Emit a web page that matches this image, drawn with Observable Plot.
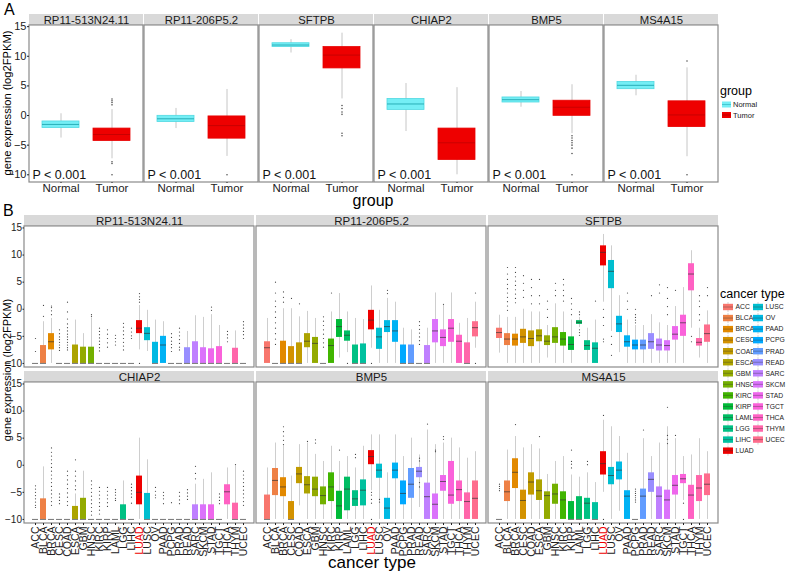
<!DOCTYPE html>
<html><head><meta charset="utf-8">
<script src="https://cdn.jsdelivr.net/npm/d3@7"></script>
<script src="https://cdn.jsdelivr.net/npm/@observablehq/plot@0.6"></script>
<style>
html,body{margin:0;padding:0;background:#fff;}
#wrap{position:relative;width:787px;height:573px;overflow:hidden;background:#fff;font-family:"Liberation Sans",Arial,Helvetica,sans-serif;}
</style></head><body><div id="wrap"></div>
<script>
// ---------------- DATA ----------------
const groups = ["Normal", "Tumor"];
const genesA = ["RP11-513N24.11", "RP11-206P5.2", "SFTPB", "CHIAP2", "BMP5", "MS4A15"];
const pLabels = ["P < 0.001", "P < 0.001", "P < 0.001", "P < 0.001", "P < 0.001", "P < 0.001"];
// [lower whisker, Q1, median, Q3, upper whisker]
const normalStats = [
  [-3.8, -2.1, -1.5, -1.0, 0.3],
  [-2.2, -1.1, -0.55, -0.05, 1.2],
  [10.55, 11.55, 11.9, 12.2, 12.8],
  [-2.7, 0.95, 1.95, 2.8, 5.4],
  [1.4, 2.2, 2.67, 3.05, 4.05],
  [3.33, 4.45, 5.1, 5.67, 6.8]
];
const tumorStats = [
  [-7.3, -4.3, -3.2, -2.2, 1.0],
  [-6.9, -3.9, -1.7, -0.15, 4.4],
  [2.8, 7.95, 10.2, 11.55, 13.9],
  [-10.0, -7.5, -4.6, -2.2, 4.7],
  [-3.05, -0.05, 1.4, 2.5, 5.2],
  [-6.95, -1.95, 0.1, 2.4, 8.05]
];
const normalOutliers = [[], [], [], [], [], []];
const tumorOutliers = [
  [2.8, 2.5, 2.2, 1.8, -7.8, -8.1, -10],
  [-10],
  [1.7, 1.2, 0.6, 0.2, -3.0, -3.4],
  [],
  [-3.4, -3.8, -4.2, -4.6, -5.0, -5.5, -6.4, -10],
  [9.2, -10]
];

const cancerTypes = ["ACC","BLCA","BRCA","CESC","COAD","ESCA","GBM","HNSC","KIRC","KIRP","LAML","LGG","LIHC","LUAD","LUSC","OV","PAAD","PCPG","PRAD","READ","SARC","SKCM","STAD","TGCT","THCA","THYM","UCEC"];
const genesB = ["RP11-513N24.11", "RP11-206P5.2", "SFTPB", "CHIAP2", "BMP5", "MS4A15"];

// per gene, per cancer type: [lower whisker, Q1, median, Q3, upper whisker]
const statsRP11_513 = [
  [-10,-10,-10,-10,-10],[-10,-10,-10,-6.7,-2.3],[-10,-7.5,-6.0,-4.5,-1.7],[-10,-10,-10,-10,-10],[-10,-10,-10,-10,-10],
  [-10,-10,-10,-6.6,-2.0],[-10,-10,-10,-7.0,-4.5],[-10,-10,-10,-7.0,-1.6],[-10,-10,-10,-10,-10],[-10,-10,-10,-10,-10],
  [-10,-10,-10,-10,-10],[-10,-10,-10,-10,-10],[-10,-10,-10,-10,-10],[-7.5,-4.5,-3.5,-2.1,0.7],[-7.8,-5.8,-4.45,-3.4,-0.2],
  [-10,-10,-10,-6.1,-2.0],[-10,-10,-6.6,-5.0,-2.3],[-10,-10,-10,-10,-10],[-10,-10,-10,-10,-10],[-10,-10,-10,-7.1,-4.1],
  [-10,-10,-10,-6.0,-1.2],[-10,-10,-10,-7.1,-1.5],[-10,-10,-10,-7.3,-1.0],[-10,-10,-10,-6.9,-3.0],[-10,-10,-10,-10,-10],
  [-10,-10,-10,-7.2,-4.0],[-10,-10,-10,-10,-10]
];
const statsRP11_206 = [
  [-10,-10,-7.1,-6.0,-1.7],[-10,-10,-10,-10,-10],[-10,-10,-10,-5.9,0.1],[-10,-10,-10,-6.9,0.1],[-10,-10,-10,-6.2,-1.4],
  [-10,-7.1,-5.9,-4.5,-0.4],[-10,-10,-6.3,-5.2,-1.7],[-10,-10,-10,-10,-10],[-10,-10,-6.7,-5.5,-0.5],[-9.0,-5.2,-3.2,-1.9,2.9],
  [-8.0,-5.9,-4.8,-4.0,-0.5],[-10,-10,-10,-6.6,-1.7],[-10,-10,-10,-6.4,-1.9],[-7.2,-3.8,-2.0,-0.2,4.3],[-10,-7.4,-5.1,-3.5,-0.2],
  [-10,-4.3,-3.2,-2.1,2.0],[-10,-6.1,-4.0,-2.1,1.3],[-10,-10,-10,-6.6,-3.5],[-10,-10,-10,-6.6,-3.8],[-10,-10,-10,-10,-10],
  [-10,-10,-10,-6.7,-3.5],[-10,-6.2,-4.0,-1.9,3.0],[-10,-6.9,-5.2,-3.8,0.7],[-10,-6.1,-3.5,-1.9,3.0],[-10,-10,-5.9,-4.8,-2.6],
  [-10,-10,-10,-6.2,-1.7],[-7.2,-5.1,-3.4,-2.3,1.3]
];
const statsSFTPB = [
  [-8.1,-5.4,-4.3,-3.5,-1.1],[-10,-6.7,-5.5,-4.5,-1.5],[-10,-6.8,-5.5,-4.6,-1.5],[-10,-6.3,-5.1,-3.7,0.0],[-10,-6.9,-5.4,-4.0,-0.5],
  [-10,-6.0,-4.9,-3.8,-0.5],[-9.0,-6.7,-5.9,-4.9,-3.0],[-10,-6.3,-5.1,-3.4,1.0],[-10,-6.8,-5.5,-4.3,-0.5],[-10,-7.6,-6.5,-5.1,-2.0],
  [-3.4,-2.8,-2.4,-2.1,-1.5],[-10,-7.6,-6.7,-5.8,-3.5],[-10,-10,-7.2,-6.2,-2.0],[1.3,8.0,10.5,11.7,13.8],[-4.1,3.8,7.0,9.0,11.7],
  [-8.0,-4.3,-2.7,-1.3,2.5],[-10,-7.0,-6.0,-4.9,-2.0],[-10,-7.5,-6.6,-5.7,-3.0],[-10,-7.5,-6.6,-5.7,-3.0],[-10,-7.4,-6.0,-4.5,-1.0],
  [-10,-7.7,-6.6,-5.5,-2.5],[-10,-7.7,-6.7,-5.8,-3.0],[-10,-5.7,-4.6,-3.2,0.5],[-10,-5.0,-2.5,-1.1,4.0],[-3.5,3.4,6.5,8.4,10.8],
  [-9.0,-6.8,-6.1,-5.4,-3.5],[-10,-6.1,-4.5,-2.9,-0.3]
];
const statsCHIAP2 = [
  [-10,-10,-10,-10,-10],[-10,-10,-10,-6.2,-0.3],[-10,-10,-10,-10,-10],[-10,-10,-10,-10,-10],[-10,-10,-10,-10,-10],
  [-10,-10,-10,-7.6,-5.3],[-10,-10,-10,-6.1,-1.1],[-10,-10,-10,-10,-10],[-10,-10,-10,-10,-10],[-10,-10,-10,-10,-10],
  [-10,-10,-10,-10,-10],[-10,-10,-10,-7.3,-2.9],[-10,-10,-10,-10,-10],[-10,-7.3,-5.0,-2.0,5.0],[-10,-10,-10,-5.2,1.0],
  [-10,-10,-10,-10,-10],[-10,-10,-10,-10,-10],[-10,-10,-10,-10,-10],[-10,-10,-10,-10,-10],[-10,-10,-10,-10,-10],
  [-10,-10,-10,-7.3,-3.5],[-10,-10,-10,-7.3,-2.6],[-10,-10,-10,-7.3,-1.4],[-10,-10,-10,-10,-10],[-10,-7.3,-4.9,-3.6,-0.5],
  [-10,-10,-10,-7.0,-0.2],[-10,-10,-10,-10,-10]
];
const statsBMP5 = [
  [-10,-10,-10,-5.5,-0.5],[-10,-5.6,-2.8,-0.6,4.1],[-10,-5.8,-4.0,-2.3,3.5],[-10,-10,-10,-6.7,-2.0],[-7.5,-3.4,-1.6,-0.4,3.8],
  [-10,-5.3,-3.6,-2.1,4.1],[-10,-5.8,-4.4,-2.2,2.0],[-10,-7.3,-5.6,-4.0,0.7],[-10,-6.7,-4.0,-1.4,3.5],[-10,-10,-7.5,-4.8,0.7],
  [-10,-8.4,-4.4,-2.2,1.6],[-10,-7.6,-6.2,-4.7,-0.5],[-10,-7.5,-4.6,-2.7,3.5],[-4.7,0.1,1.6,2.7,5.6],[-10,-2.4,-0.9,0.2,5.6],
  [-10,-10,-7.9,-6.1,-1.4],[-10,-2.5,-0.9,0.4,5.6],[-10,-7.3,-5.2,-2.9,1.6],[-10,-6.1,-3.5,-0.6,5.0],[-7.8,-2.3,-1.1,-0.4,1.9],
  [-10,-10,-5.8,-3.3,6.5],[-10,-10,-7.2,-5.3,3.8],[-10,-4.8,-3.0,-1.9,4.1],[-10,-7.2,-5.5,0.7,5.0],[-10,-6.7,-4.5,-2.9,3.2],
  [-10,-10,-6.7,-5.1,1.3],[-10,-10,-6.1,-2.9,2.5]
];
const statsMS4A15 = [
  [-10,-10,-10,-10,-10],[-10,-6.7,-4.9,-2.9,2.8],[-10,-4.3,-1.3,1.2,5.3],[-10,-10,-6.5,-4.6,3.2],[-10,-5.5,-3.1,-1.4,3.8],
  [-10,-6.5,-4.7,-2.7,3.0],[-10,-10,-5.6,-4.9,-1.7],[-10,-7.2,-5.3,-3.5,0.7],[-10,-10,-6.4,-4.9,1.6],[-10,-10,-10,-6.7,-1.8],
  [-10,-10,-10,-5.8,-2.2],[-10,-10,-7.0,-6.1,-1.4],[-10,-10,-10,-6.9,-3.2],[-5.0,-1.8,0.3,2.5,8.3],[-10,-3.6,-1.9,-0.4,7.1],
  [-8.5,-2.7,-0.9,0.6,5.3],[-10,-10,-5.7,-4.7,2.2],[-10,-10,-10,-10,-10],[-10,-10,-5.7,-4.4,4.9],[-10,-5.0,-2.6,-1.4,1.6],
  [-10,-10,-5.7,-4.0,4.1],[-10,-10,-6.4,-4.6,7.1],[-10,-5.5,-3.7,-1.9,4.9],[-6.5,-3.4,-2.5,-1.7,1.6],[-10,-10,-5.5,-3.7,1.9],
  [-10,-6.7,-4.2,-1.9,4.9],[-10,-5.6,-3.5,-1.6,2.5]
];

// outliers: [cancer type, values]
const outRP11_513 = [
  ["ACC",[-5.4,-7.8]],["BLCA",[0.7,-1.3]],["BRCA",[0.6,0.3,-0.3,-1.0]],
  ["CESC",[-3.8,-4.5,-5.1,-5.6,-6.1,-6.6,-7.1,-7.6]],
  ["COAD",[1.3,-0.5,-1.8,-2.7,-3.4,-4.0,-4.6,-5.1,-5.6,-6.1,-6.6,-7.1,-7.5]],
  ["HNSC",[-1.3,-1.0]],["KIRC",[-3.5,-4.1,-4.7,-5.3,-5.9,-6.5,-7.1,-7.7]],["KIRP",[-3.8,-4.6,-5.4,-6.2,-7.0]],
  ["LAML",[-4.8,-5.4,-6.0,-6.6]],["LGG",[-2.6,-3.3,-4.0,-4.7,-5.4,-6.1,-6.8,-7.5]],["LIHC",[-3.5,-4.2,-4.9,-5.4]],
  ["LUAD",[2.9,2.3,1.8,1.3,-10]],["PCPG",[-4.5,-5.2,-5.9,-6.5,-7.1,-7.8]],["PRAD",[-3.5,-4.2,-4.9,-5.6,-6.3,-7.0,-7.5]],
  ["STAD",[0.4,-0.2]],["THCA",[-4.1,-4.7,-5.3,-6.0]],["UCEC",[-2.3,-2.9,-3.5,-4.1,-4.7,-5.4]]
];
const outRP11_206 = [
  ["BLCA",[5.0,3.0,1.5,0.5,-0.5,-1.5,-2.5,-3.5,-4.5,-5.5,-6.5]],["BRCA",[3.2,2.2,1.3]],["CESC",[2.0]],["COAD",[1.0]],
  ["HNSC",[-1.4,-2.2,-3.0,-3.8,-4.6,-5.4,-6.2,-7.0]],["KIRC",[3.0]],["LAML",[-10]],["LUAD",[-10]],["OV",[3.5,2.9]],
  ["READ",[-2.3,-3.0,-3.7,-4.4,-5.1,-5.8,-6.5]],["STAD",[0.9]],["UCEC",[3.0,-10]]
];
const outSFTPB = [
  ["BLCA",[7.7,6.5,5.5,4.6,3.8,3.0,2.2,1.4,0.6,-0.2]],["BRCA",[7.7,6.8,6.0,5.2,4.4,3.6,2.8,2.0,1.2]],
  ["CESC",[6.2,4.8,3.5,2.2]],["COAD",[5.5,4.0,2.5,1.0]],["ESCA",[5.5,2.5,1.0]],["GBM",[1.5,0,-1.5]],
  ["HNSC",[4.8,3.5,2.5]],["KIRC",[5.5,4.5,3.5,2.5,1.5]],["KIRP",[2.0,1.0,0,-1.0]],
  ["LAML",[-0.5,-1.0,-3.8,-4.3,-4.8]],["LIHC",[1.5]],["LUAD",[0,-1.5,-3,-5.5,-6.0]],["LUSC",[-5,-6.5,-8.5]],
  ["PAAD",[3.0,1.5,0]],["PCPG",[-2.5,-2.0,-1.5,-1.0,0.0]],["READ",[2.5]],["SARC",[4.5,3.0]],
  ["SKCM",[4.0,2.0,0.5,-1.0]],["STAD",[3.5]],["THCA",[-5,-6]],["THYM",[2.5,1.5,0.5,-1,-2]],["UCEC",[4,2.5]]
];
const outCHIAP2 = [
  ["ACC",[-3.8,-4.4,-5.0,-5.6,-6.2,-6.8,-7.4,-7.8]],
  ["BRCA",[3.2,2.4,1.7,1.0,0.3,-0.4,-1.1,-1.8,-2.5,-3.2,-3.9,-4.6,-5.3,-6.0,-6.7,-7.4]],
  ["CESC",[-5.3,-5.9,-6.5,-7.1]],["COAD",[-1.1,-1.9,-2.7,-3.5,-4.3,-5.1,-5.9,-6.7,-7.4]],
  ["ESCA",[1.0,-1.1,-2.0,-2.9,-3.8,-4.5]],["HNSC",[-2.9,-3.6,-4.3,-5.0,-5.7,-6.4,-7.1,-7.8,-8.5,-9.2]],
  ["KIRC",[-4.1,-4.8,-5.5,-6.2,-6.9,-7.6,-8.3,-9.0]],["KIRP",[-4.1,-4.8,-5.5,-6.2,-6.9,-7.6]],
  ["LAML",[-4.5,-5.0,-5.5,-6.1,-6.5]],["LIHC",[-3.5,-4.1,-4.7,-5.3,-5.9,-7.0]],["OV",[-4.1,-4.8,-5.5,-6.0]],
  ["PAAD",[-5.0,-5.6,-6.2,-7.1]],["PCPG",[-6.9]],["PRAD",[-5.0,-5.7,-6.4,-7.1]],["READ",[-4.5,-5.1,-5.7,-6.3]],
  ["SARC",[-0.2,-1.5,-2.5]],["TGCT",[-5.3,-5.9,-6.5,-7.1]],["THYM",[0.1]],
  ["UCEC",[-1.1,-1.8,-2.5,-3.2,-3.9,-4.6,-5.3,-6.0,-6.7,-7.4]]
];
const outBMP5 = [
  ["BRCA",[7.1,6.2,5.4,4.6,3.8]],["ESCA",[4.4]],["GBM",[4.7,4.1]],["KIRP",[2.8]],["LGG",[1.4,2.0]],
  ["LUAD",[-5.0,-5.5,-6.3,-7.0,-10]],["LUSC",[-6.3,-6.8]],["READ",[-3.2,-4.0,0.8,1.3]],["SARC",[7.6]],
  ["SKCM",[2.5,2.8]],["STAD",[4.8,5.3]]
];
const outMS4A15 = [
  ["ACC",[-3.5,-3.9,-4.3,-4.7]],["BRCA",[7.5]],["ESCA",[5.3]],["KIRP",[2.8,0.7,0.2,-0.5]],["LGG",[0.7,0.1]],
  ["LUAD",[9.2,-10]],["PCPG",[-4.4,-4.8,-5.2,-5.6,-6.0,-6.4,-6.8]],["PRAD",[6.5]],
  ["SKCM",[10.7,5.5,4.8,4.0]],["STAD",[5.5]],["TGCT",[-7.0,-10]]
];

// ---------------- helpers ----------------
function hclR(h, c, l) { // R's hcl() (polar CIE-LUV) -> sRGB hex
  const hr = h * Math.PI / 180, U = c * Math.cos(hr), V = c * Math.sin(hr);
  const Xn = 95.047, Yn = 100, Zn = 108.883;
  const den = Xn + 15 * Yn + 3 * Zn, un = 4 * Xn / den, vn = 9 * Yn / den;
  const Y = l > 8 ? Yn * Math.pow((l + 16) / 116, 3) : Yn * l / 903.3;
  const up = U / (13 * l) + un, vp = V / (13 * l) + vn;
  const X = 9 * Y * up / (4 * vp), Z = Y * (12 - 3 * up - 20 * vp) / (4 * vp);
  const x = X / 100, y = Y / 100, z = Z / 100;
  const lin = [3.240479 * x - 1.537150 * y - 0.498535 * z,
               -0.969256 * x + 1.875992 * y + 0.041556 * z,
               0.055648 * x - 0.204043 * y + 1.057311 * z];
  const g = lin.map(v => { v = v <= 0.0031308 ? 12.92 * v : 1.055 * Math.pow(v, 1 / 2.4) - 0.055; return Math.round(255 * Math.max(0, Math.min(1, v))); });
  return "#" + g.map(v => v.toString(16).padStart(2, "0")).join("");
}
const palette = cancerTypes.map((t, i) => t === "LUAD" ? "#EE0000" : hclR(15 + 360 * i / cancerTypes.length, 100, 65));
const FONT = "Liberation Sans, Arial, Helvetica, sans-serif";
const wrap = document.getElementById("wrap");
function place(el, left, top) { el.style.position = "absolute"; el.style.left = left + "px"; el.style.top = top + "px"; wrap.appendChild(el); }

// ---------------- PANEL A ----------------
const rowsA = [], outA = [];
genesA.forEach((g, k) => {
  [normalStats[k], tumorStats[k]].forEach((s, j) => rowsA.push({gene: g, group: groups[j], lo: s[0], q1: s[1], med: s[2], q3: s[3], hi: s[4]}));
  normalOutliers[k].forEach(v => outA.push({gene: g, group: "Normal", v}));
  tumorOutliers[k].forEach(v => outA.push({gene: g, group: "Tumor", v}));
});
const panelsA = genesA.map((g, k) => ({gene: g, p: pLabels[k]}));
const normA = rowsA.filter(d => d.group === "Normal"), tumA = rowsA.filter(d => d.group === "Tumor");

const plotA = Plot.plot({
  width: 721, height: 200, marginLeft: 27, marginRight: 1, marginTop: 14, marginBottom: 18,
  style: {fontFamily: FONT, fontSize: "11px", color: "#222", background: "transparent", overflow: "visible"},
  fx: {domain: genesA, axis: null, paddingInner: 0.012, paddingOuter: 0},
  x: {domain: groups, paddingInner: 0.28, paddingOuter: 0.24, label: null},
  y: {domain: [-11.3, 17.05], label: null},
  marks: [
    Plot.barY(panelsA, {fx: "gene", y1: 15.2, y2: 17.05, fill: "#D9D9D9"}),
    Plot.text(panelsA, {fx: "gene", y: 16.1, text: "gene", fontSize: 11.3, fill: "#1a1a1a"}),
    Plot.barY(panelsA, {fx: "gene", y1: -11.3, y2: 15.2, fill: "none", stroke: "#8a8a8a", strokeWidth: 1.2}),
    Plot.ruleX(rowsA, {fx: "gene", x: "group", y1: "lo", y2: "hi", stroke: "#c6c6c6"}),
    Plot.barY(normA, {fx: "gene", x: "group", y1: "q1", y2: "q3", fill: "#74EEF5", stroke: "#52D9E2", strokeWidth: 0.8}),
    Plot.barY(tumA, {fx: "gene", x: "group", y1: "q1", y2: "q3", fill: "#EE0000", stroke: "#E80000", strokeWidth: 0.8}),
    Plot.tickY(normA, {fx: "gene", x: "group", y: "med", stroke: "#2AAEB8", strokeWidth: 1}),
    Plot.tickY(tumA, {fx: "gene", x: "group", y: "med", stroke: "#A00000", strokeWidth: 0.8, strokeOpacity: 0.6}),
    Plot.dot(outA, {fx: "gene", x: "group", y: "v", r: 0.8, fill: "#555", stroke: "none"}),
    Plot.text(panelsA, {fx: "gene", y: -10, text: "p", frameAnchor: "left", textAnchor: "start", dx: 3, fontSize: 12.5, fill: "#111"}),
    Plot.axisY({ticks: [-10, -5, 0, 5, 10, 15], tickSize: 2, tickPadding: 1, fontSize: 11, label: null}),
    Plot.axisX({tickSize: 1, tickPadding: 0, fontSize: 11.5, label: null})
  ]
});
place(plotA, 0, 0);

// ---------------- PANEL B ----------------
const statsB = [statsRP11_513, statsRP11_206, statsSFTPB, statsCHIAP2, statsBMP5, statsMS4A15];
const outsB = [outRP11_513, outRP11_206, outSFTPB, outCHIAP2, outBMP5, outMS4A15];
const rowsB = [], outB = [];
genesB.forEach((g, k) => {
  const col = k % 3, row = Math.floor(k / 3);
  statsB[k].forEach((s, i) => rowsB.push({gene: g, col, row, type: cancerTypes[i], lo: s[0], q1: s[1], med: s[2], q3: s[3], hi: s[4]}));
  outsB[k].forEach(([t, vals]) => vals.forEach(v => outB.push({gene: g, col, row, type: t, v})));
});
const panelsB = genesB.map((g, k) => ({gene: g, col: k % 3, row: Math.floor(k / 3)}));

const plotB = Plot.plot({
  width: 720, height: 373, marginLeft: 24, marginRight: 2, marginTop: 14, marginBottom: 49,
  style: {fontFamily: FONT, fontSize: "10px", color: "#222", background: "transparent", overflow: "visible"},
  fx: {domain: [0, 1, 2], axis: null, paddingInner: 0.009, paddingOuter: 0},
  fy: {domain: [0, 1], axis: null, paddingInner: 0.025, paddingOuter: 0},
  x: {domain: cancerTypes, paddingInner: 0.22, paddingOuter: 0.21, label: null},
  y: {domain: [-10.75, 17.3], label: null},
  color: {domain: cancerTypes, range: palette},
  marks: [
    Plot.barY(panelsB, {fx: "col", fy: "row", y1: 15.28, y2: 17.3, fill: "#D9D9D9"}),
    Plot.text(panelsB, {fx: "col", fy: "row", y: 16.25, text: "gene", fontSize: 11.5, fill: "#1a1a1a"}),
    Plot.barY(panelsB, {fx: "col", fy: "row", y1: -10.75, y2: 15.28, fill: "none", stroke: "#8a8a8a", strokeWidth: 1.2}),
    Plot.ruleX(rowsB, {fx: "col", fy: "row", x: "type", y1: "lo", y2: "hi", stroke: "#c8c8c8", strokeWidth: 0.9}),
    Plot.barY(rowsB, {fx: "col", fy: "row", x: "type", y1: "q1", y2: "q3", fill: "type"}),
    Plot.tickY(rowsB, {fx: "col", fy: "row", x: "type", y: "med", stroke: "#333", strokeWidth: 0.9, strokeOpacity: 0.75}),
    Plot.dot(outB, {fx: "col", fy: "row", x: "type", y: "v", r: 0.6, fill: "#444", stroke: "none"}),
    Plot.axisY({ticks: [-10, -5, 0, 5, 10, 15], tickSize: 1.5, tickPadding: 1, fontSize: 10, label: null}),
    Plot.axisX({tickSize: 2, tickPadding: 1, tickRotate: -90, fontSize: 10.5, label: null})
  ]
});
d3.select(plotB).selectAll("text").filter(function () { return this.textContent === "LUAD"; }).attr("fill", "#EE0000");
place(plotB, 0, 200);

// ---------------- overlay: titles & legends ----------------
const ov = d3.create("svg").attr("width", 787).attr("height", 573)
  .style("font-family", FONT).style("pointer-events", "none");
ov.append("text").attr("x", 4).attr("y", 15).attr("font-size", 16).text("A");
ov.append("text").attr("x", 3).attr("y", 216).attr("font-size", 16).text("B");
ov.append("text").attr("x", 373).attr("y", 206).attr("font-size", 16).attr("text-anchor", "middle").text("group");
ov.append("text").attr("x", 372).attr("y", 568).attr("font-size", 17).attr("text-anchor", "middle").text("cancer type");
ov.append("text").attr("transform", "translate(11,103) rotate(-90)").attr("font-size", 11.2).attr("text-anchor", "middle").text("gene expression (log2FPKM)");
ov.append("text").attr("transform", "translate(11,370) rotate(-90)").attr("font-size", 11).attr("text-anchor", "middle").text("gene expression (log2FPKM)");

// group legend
ov.append("text").attr("x", 720).attr("y", 95).attr("font-size", 12.5).text("group");
[["Normal", "#74EEF5", "#2AAEB8"], ["Tumor", "#EE0000", "#A00000"]].forEach(([lab, f, m], j) => {
  const cy = 104.5 + j * 10.5;
  ov.append("rect").attr("x", 722).attr("y", cy - 3).attr("width", 9).attr("height", 6).attr("fill", f);
  ov.append("line").attr("x1", 722).attr("x2", 731).attr("y1", cy).attr("y2", cy).attr("stroke", m).attr("stroke-width", 0.6);
  ov.append("text").attr("x", 733).attr("y", cy + 2.6).attr("font-size", 7.5).attr("fill", "#222").text(lab);
});

// cancer type legend
ov.append("text").attr("x", 720).attr("y", 298).attr("font-size", 12.5).text("cancer type");
cancerTypes.forEach((t, i) => {
  const colIdx = i < 14 ? 0 : 1, rowIdx = i < 14 ? i : i - 14;
  const x0 = colIdx === 0 ? 723 : 753, cy = 307 + rowIdx * 11.05;
  ov.append("line").attr("x1", x0 + 5).attr("x2", x0 + 5).attr("y1", cy - 5).attr("y2", cy + 5).attr("stroke", "#c8c8c8").attr("stroke-width", 0.8);
  ov.append("rect").attr("x", x0).attr("y", cy - 3.2).attr("width", 10).attr("height", 6.4).attr("fill", palette[i]);
  ov.append("line").attr("x1", x0).attr("x2", x0 + 10).attr("y1", cy).attr("y2", cy).attr("stroke", "#333").attr("stroke-opacity", 0.6).attr("stroke-width", 0.6);
  ov.append("text").attr("x", x0 + 12.5).attr("y", cy + 2.3).attr("font-size", 6.8).attr("fill", "#222").text(t);
});
place(ov.node(), 0, 0);
</script></body></html>
